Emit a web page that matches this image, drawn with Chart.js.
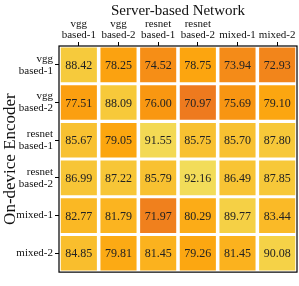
<!DOCTYPE html>
<html>
<head>
<meta charset="utf-8">
<script src="https://cdn.jsdelivr.net/npm/chart.js@4/dist/chart.umd.min.js"></script>
<style>
  html, body { margin: 0; padding: 0; background: #fff; }
  #wrap { width: 299px; height: 286px; }
</style>
</head>
<body>
<div id="wrap"><canvas id="grafico"></canvas></div>
<script>
// datos
const COLUMNAS = [["vgg", "based-1"], ["vgg", "based-2"], ["resnet", "based-1"], ["resnet", "based-2"], "mixed-1", "mixed-2"];
const FILAS = [["vgg", "based-1"], ["vgg", "based-2"], ["resnet", "based-1"], ["resnet", "based-2"], "mixed-1", "mixed-2"];
const FILA_VGG1 = [88.42, 78.25, 74.52, 78.75, 73.94, 72.93];
const FILA_VGG2 = [77.51, 88.09, 76.00, 70.97, 75.69, 79.10];
const FILA_RES1 = [85.67, 79.05, 91.55, 85.75, 85.70, 87.80];
const FILA_RES2 = [86.99, 87.22, 85.79, 92.16, 86.49, 87.85];
const FILA_MIX1 = [82.77, 81.79, 71.97, 80.29, 89.77, 83.44];
const FILA_MIX2 = [84.85, 79.81, 81.45, 79.26, 81.45, 90.08];
const VALORES = [FILA_VGG1, FILA_VGG2, FILA_RES1, FILA_RES2, FILA_MIX1, FILA_MIX2];

// escala de color (amarillo -> naranja)
const PARADAS = [70.5, 73, 76, 79, 82, 86, 89, 92.5];
const COLORES = ["#ed781f", "#f2851b", "#f99711", "#fca60f", "#fbb521", "#f8c232", "#f6cc3e", "#f2de5c"];

function hexRgb(h) {
  return [parseInt(h.substr(1, 2), 16), parseInt(h.substr(3, 2), 16), parseInt(h.substr(5, 2), 16)];
}
function colorDe(v) {
  if (v <= PARADAS[0]) return COLORES[0];
  for (let i = 1; i < PARADAS.length; i++) {
    if (v <= PARADAS[i]) {
      const t = (v - PARADAS[i - 1]) / (PARADAS[i] - PARADAS[i - 1]);
      const a = hexRgb(COLORES[i - 1]), b = hexRgb(COLORES[i]);
      const c = a.map((x, k) => Math.round(x + (b[k] - x) * t));
      return "rgb(" + c.join(",") + ")";
    }
  }
  return COLORES[COLORES.length - 1];
}

const FUENTE = "'Liberation Serif', 'DejaVu Serif', serif";

// un dataset por fila, barras flotantes de alto 1 fila
const datasets = VALORES.map((fila, r) => ({
  label: "fila " + r,
  data: fila.map(() => [r - 0.46, r + 0.46]),
  valores: fila,
  backgroundColor: fila.map(colorDe),
  borderWidth: 0,
  grouped: false,
  barPercentage: 0.91,
  categoryPercentage: 1
}));

// texto dentro de cada celda + marco negro
const plugin_celdas = {
  id: "celdas",
  afterDatasetsDraw(chart) {
    const ctx = chart.ctx;
    ctx.save();
    ctx.font = "12px " + FUENTE;
    ctx.fillStyle = "#222";
    ctx.textAlign = "center";
    ctx.textBaseline = "middle";
    chart.data.datasets.forEach((ds, i) => {
      chart.getDatasetMeta(i).data.forEach((bar, j) => {
        const p = bar.getProps(["x", "y", "base"], true);
        ctx.fillText(ds.valores[j].toFixed(2), p.x, (p.y + p.base) / 2 + 1);
      });
    });
    const a = chart.chartArea;
    ctx.strokeStyle = "#000";
    ctx.lineWidth = 1.2;
    ctx.strokeRect(a.left, a.top, a.right - a.left, a.bottom - a.top);
    ctx.restore();
  }
};

new Chart(document.getElementById("grafico"), {
  type: "bar",
  data: { labels: COLUMNAS, datasets: datasets },
  options: {
    responsive: true,
    maintainAspectRatio: false,
    animation: false,
    grouped: false,
    layout: { padding: { left: 0, top: 0, right: 2, bottom: 2 } },
    plugins: { legend: { display: false }, tooltip: { enabled: false } },
    scales: {
      x: {
        position: "top",
        offset: true,
        grid: { display: true, drawOnChartArea: false, drawTicks: true, tickLength: 4, color: "#000", offset: false },
        border: { display: false },
        ticks: { color: "#111", font: { family: FUENTE, size: 11, lineHeight: 0.98 }, padding: 2, maxRotation: 0, autoSkip: false },
        title: { display: true, text: "Server-based Network", color: "#111", font: { family: FUENTE, size: 15 }, padding: { top: 2, bottom: 2 } },
        afterFit(scale) { scale.height = 46; }
      },
      y: {
        min: -0.5,
        max: 5.5,
        reverse: true,
        grid: { display: true, drawOnChartArea: false, drawTicks: true, tickLength: 4, color: "#000" },
        border: { display: false },
        afterBuildTicks(scale) { scale.ticks = FILAS.map((f, i) => ({ value: i })); },
        ticks: {
          color: "#111",
          font: { family: FUENTE, size: 11, lineHeight: 1.08 },
          padding: 2,
          autoSkip: false,
          callback: (v) => FILAS[v]
        },
        title: { display: true, text: "On-device Encoder", color: "#111", font: { family: FUENTE, size: 17 }, padding: { top: 0, bottom: 0 } },
        afterFit(scale) { scale.width = 59; }
      }
    }
  },
  plugins: [plugin_celdas]
});
</script>
</body>
</html>
